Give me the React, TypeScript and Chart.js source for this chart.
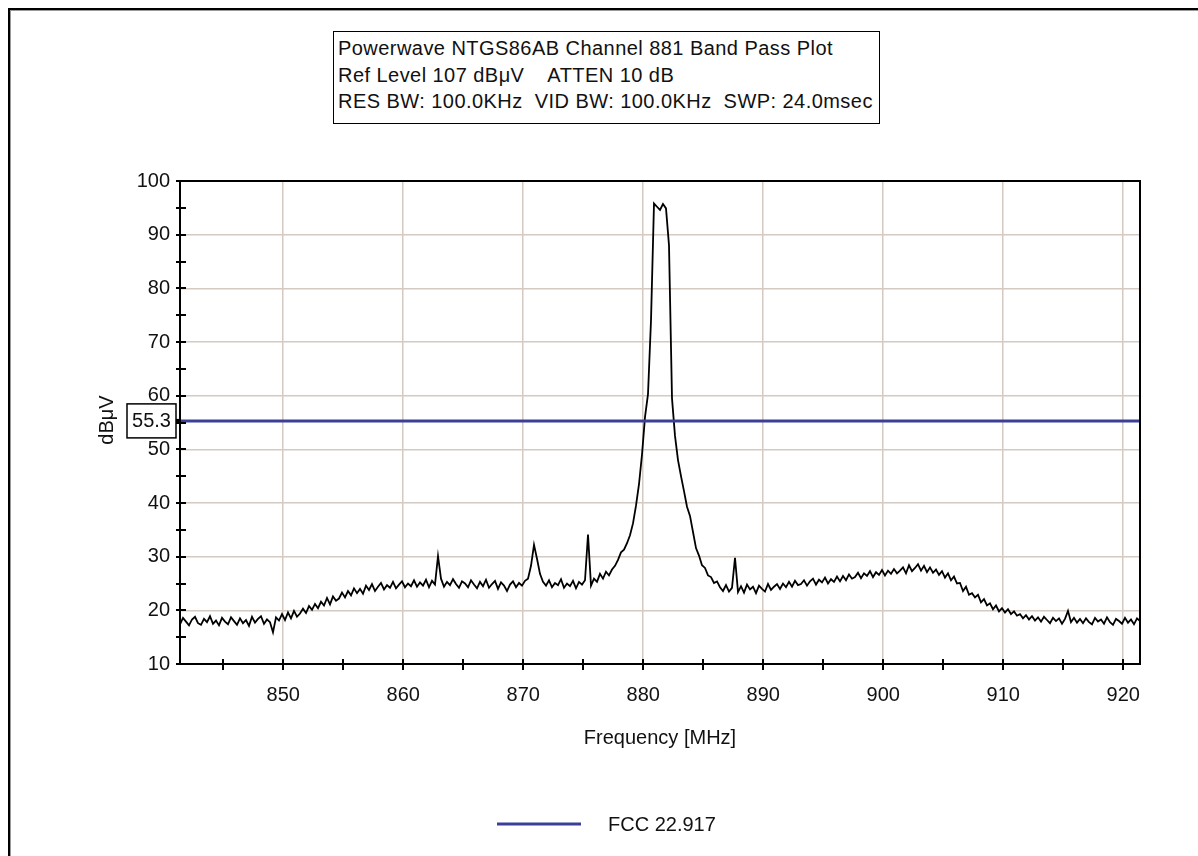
import React, { useEffect, useRef } from "react";
import { Chart, registerables } from "chart.js";

Chart.register(...registerables);

const TITLE_LINES = [
  "Powerwave NTGS86AB Channel 881 Band Pass Plot",
  "Ref Level 107 dBμV    ATTEN 10 dB",
  "RES BW: 100.0KHz  VID BW: 100.0KHz  SWP: 24.0msec",
];

const X_TITLE = "Frequency [MHz]";
const Y_TITLE = "dBμV";
const FCC_LABEL = "FCC 22.917";
const FCC_LIMIT = 55.3;

const X_MIN = 841.4;
const X_MAX = 921.4;
const Y_MIN = 10;
const Y_MAX = 100;

const X_TICKS = [850, 860, 870, 880, 890, 900, 910, 920];
const X_MINOR = [845, 855, 865, 875, 885, 895, 905, 915];
const Y_TICKS = [10, 20, 30, 40, 50, 60, 70, 80, 90, 100];
const Y_MINOR = [15, 25, 35, 45, 55, 65, 75, 85, 95];

// sweep grid of the analyser
const FREQ_START = 841.4;
const FREQ_STEP = 0.25;

const LEVELS = [
  17.4, 18.6, 17.9, 17.2, 18.3, 18.8, 17.6, 17.3, 18.4, 17.8, 18.9, 17.5, 18.1, 17.2, 18.6, 17.9, 17.4, 18.7, 18.0, 17.3,
  18.5, 17.6, 18.2, 17.1, 18.8, 17.7, 18.4, 18.9, 17.5, 18.3, 17.8, 15.9, 18.7, 18.1, 19.3, 18.2, 19.6, 18.5, 19.9, 18.8,
  19.4, 20.3, 19.5, 20.8, 20.1, 21.2, 20.4, 21.6, 20.9, 22.3, 21.1, 22.6, 21.8, 22.2, 23.3, 22.4, 23.6, 22.8, 24.1, 23.2,
  24.0, 23.1, 24.6, 23.8, 24.9, 23.6, 24.4, 25.1, 23.9, 24.7, 24.2, 25.3, 24.1, 24.8, 25.4, 24.3, 25.0, 24.5, 25.6, 24.4,
  25.2, 24.6, 25.7, 24.3, 25.5, 24.8, 30.1, 25.9, 24.4, 25.3, 24.7, 25.8, 24.9, 24.2, 25.4, 25.0, 24.3, 25.6, 24.8, 24.1,
  25.3, 24.5, 25.7, 24.2, 24.9, 25.5, 24.0, 25.2, 24.6, 23.6, 24.8, 25.4, 24.3, 25.1, 24.6, 25.5, 25.9, 28.3, 32.2, 29.6,
  26.8, 25.3, 24.6, 25.6, 24.3, 25.1, 24.7, 25.8, 24.2, 25.0, 24.5, 25.5, 24.1, 25.3, 24.8, 25.6, 34.1, 24.6, 25.9, 25.3,
  26.8, 25.9, 27.2, 26.5, 27.6, 28.3, 29.4, 30.8, 31.3, 32.5, 34.0, 36.2, 39.5, 43.5, 49.0, 56.0, 60.3, 74.0, 95.8, 95.2,
  94.6, 95.7, 94.9, 88.0, 59.5, 52.5, 48.0, 45.0, 42.2, 39.3, 37.6, 34.6, 31.6, 30.2, 28.4, 27.9, 26.5, 26.2, 25.1, 25.4,
  24.3, 23.6, 24.7, 23.5, 24.2, 29.8, 23.4, 24.5, 23.3, 24.8, 23.9, 24.4, 23.2, 24.6, 24.0, 23.5, 24.9, 23.8, 24.4, 24.9,
  24.0, 25.0, 24.3, 25.3, 24.4, 25.5, 24.7, 24.9, 25.6, 24.6, 25.4, 25.9, 24.8, 25.7, 25.2, 26.1, 25.0, 25.8, 25.3, 26.3,
  25.4, 26.4, 25.6, 26.7, 25.9, 26.2, 27.0, 26.0, 26.9, 26.4, 27.3, 26.2, 27.1, 26.6, 27.5, 26.5, 27.4, 26.8, 27.7, 26.9,
  27.4, 28.0, 26.9, 28.4, 27.3, 27.9, 28.6, 27.4, 28.3, 27.1, 28.0, 27.0, 27.6, 26.6, 27.3, 26.1, 26.9, 25.6, 26.3, 25.0,
  25.1, 23.6, 24.4, 22.9, 23.2, 22.4, 22.9, 21.5, 22.1, 20.9, 21.3, 20.2, 20.9, 19.8, 20.4, 19.6, 20.2, 19.3, 19.8, 19.0,
  19.3, 18.5, 19.1, 18.3, 18.9, 18.1, 18.7, 17.9, 18.8, 18.2, 17.6, 18.6, 18.0, 18.5, 17.5, 18.4, 19.9, 17.8, 18.6, 17.7,
  18.4, 17.6, 18.5, 17.8, 17.4, 18.6, 17.9, 18.3, 17.5, 18.7, 17.8, 17.3, 18.4, 18.0, 17.5, 18.6, 17.7, 18.3, 17.4, 18.5,
  18.0,
];

const FONT = "'Liberation Sans', Arial, sans-serif";
const FONT_SIZE = 20;
const BLUE = "#3b3f98";
const GRID = "#d4cac2";
const W = 1198;
const H = 856;

export default function App() {
  const ref = useRef<HTMLCanvasElement | null>(null);

  useEffect(() => {
    if (!ref.current) return;
    const trace = LEVELS.map((y, i) => ({
      x: Math.round((FREQ_START + i * FREQ_STEP) * 100) / 100,
      y,
    }));

    const decor = {
      id: "decor",
      afterDraw(chart: any) {
        const ctx = chart.ctx as CanvasRenderingContext2D;
        const { left, right, top, bottom } = chart.chartArea;
        const xs = chart.scales.x;
        const ys = chart.scales.y;
        ctx.save();
        // plot frame
        ctx.strokeStyle = "#000";
        ctx.lineWidth = 2;
        ctx.strokeRect(left, top, right - left, bottom - top);
        // crossing tick marks
        ctx.lineWidth = 2;
        ctx.beginPath();
        [...Y_TICKS, ...Y_MINOR].forEach((v) => {
          const py = Math.round(ys.getPixelForValue(v));
          ctx.moveTo(left - 4, py);
          ctx.lineTo(left + 6, py);
        });
        [...X_TICKS, ...X_MINOR].forEach((v) => {
          const px = Math.round(xs.getPixelForValue(v));
          ctx.moveTo(px, bottom - 5);
          ctx.lineTo(px, bottom + 6);
        });
        ctx.stroke();

        // limit value marker box
        const ly = ys.getPixelForValue(FCC_LIMIT);
        const bx = left - 53;
        const bw = 49;
        const bh = 34;
        ctx.fillStyle = "#fff";
        ctx.fillRect(bx, ly - bh / 2, bw, bh);
        ctx.lineWidth = 1.5;
        ctx.strokeStyle = "#000";
        ctx.strokeRect(bx, ly - bh / 2, bw, bh);
        ctx.fillStyle = "#000";
        ctx.fillRect(left - 4, ly - 2, 4, 4);
        ctx.font = `${FONT_SIZE}px ${FONT}`;
        ctx.textAlign = "center";
        ctx.textBaseline = "middle";
        ctx.fillStyle = "#111";
        ctx.fillText(String(FCC_LIMIT), bx + bw / 2, ly + 1);

        // axis titles
        ctx.save();
        ctx.translate(107, 420);
        ctx.rotate(-Math.PI / 2);
        ctx.fillText(Y_TITLE, 0, 0);
        ctx.restore();
        ctx.fillText(X_TITLE, (left + right) / 2, 738);

        // legend
        ctx.strokeStyle = BLUE;
        ctx.lineWidth = 3;
        ctx.beginPath();
        ctx.moveTo(497, 824);
        ctx.lineTo(581, 824);
        ctx.stroke();
        ctx.textAlign = "left";
        ctx.fillStyle = "#111";
        ctx.fillText(FCC_LABEL, 608, 825);
        ctx.restore();
      },
    };

    const chart = new Chart(ref.current, {
      type: "line",
      data: {
        datasets: [
          {
            label: FCC_LABEL,
            data: [
              { x: X_MIN, y: FCC_LIMIT },
              { x: X_MAX, y: FCC_LIMIT },
            ],
            borderColor: BLUE,
            borderWidth: 3,
            pointRadius: 0,
          },
          {
            label: "Trace",
            data: trace,
            borderColor: "#000",
            borderWidth: 1.8,
            pointRadius: 0,
            tension: 0,
          },
        ],
      },
      options: {
        responsive: false,
        animation: false,
        events: [],
        layout: { padding: { left: 0, right: W - 1140, top: 181, bottom: 0 } },
        plugins: {
          legend: { display: false },
          tooltip: { enabled: false },
          title: { display: false },
        },
        scales: {
          x: {
            type: "linear",
            min: X_MIN,
            max: X_MAX,
            afterFit: (s: any) => {
              s.height = H - 664;
            },
            afterBuildTicks: (s: any) => {
              s.ticks = X_TICKS.map((v) => ({ value: v }));
            },
            ticks: {
              font: { family: FONT, size: FONT_SIZE },
              color: "#111",
              padding: 19,
              maxRotation: 0,
              autoSkip: false,
            },
            grid: { color: GRID, lineWidth: 1.5, drawTicks: false },
            border: { display: true, color: "#000", width: 2 },
          },
          y: {
            type: "linear",
            min: Y_MIN,
            max: Y_MAX,
            afterFit: (s: any) => {
              s.width = 180;
            },
            afterBuildTicks: (s: any) => {
              s.ticks = Y_TICKS.map((v) => ({ value: v }));
            },
            ticks: {
              font: { family: FONT, size: FONT_SIZE },
              color: "#111",
              padding: 10,
              autoSkip: false,
            },
            grid: { color: GRID, lineWidth: 1.5, drawTicks: false },
            border: { display: true, color: "#000", width: 2 },
          },
        },
      },
      plugins: [decor],
    });
    return () => chart.destroy();
  }, []);

  return (
    <div
      style={{
        position: "fixed",
        left: 0,
        top: 0,
        width: W,
        height: H,
        overflow: "hidden",
        background: "#fff",
      }}
    >
      <div
        style={{
          position: "absolute",
          left: 8,
          top: 8,
          width: 1400,
          height: 1100,
          borderLeft: "2px solid #000",
          borderTop: "2px solid #000",
          boxShadow: "inset 1px 1px 0 #9a9a9a",
        }}
      />
      <canvas
        ref={ref}
        width={W}
        height={H}
        style={{ position: "absolute", left: 0, top: 0, width: W, height: H }}
      />
      <div
        style={{
          position: "absolute",
          left: 333,
          top: 31,
          width: 547,
          height: 93,
          border: "1.5px solid #000",
          background: "#fff",
          fontFamily: FONT,
          fontSize: FONT_SIZE,
          letterSpacing: "0.45px",
          lineHeight: "26.5px",
          color: "#111",
          padding: "3px 0 0 4px",
          boxSizing: "border-box",
          whiteSpace: "pre",
        }}
      >
        {TITLE_LINES.map((t) => (
          <div key={t}>{t}</div>
        ))}
      </div>
    </div>
  );
}
